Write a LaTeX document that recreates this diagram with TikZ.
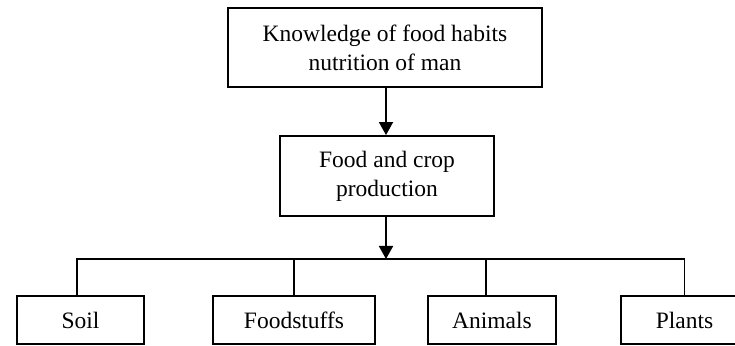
\documentclass[tikz,border=0pt]{standalone}
\usepackage{fontspec}
\setmainfont{Liberation Serif}
\usetikzlibrary{arrows.meta,calc,positioning}

\tikzset{
  box/.style={draw,line width=1.9pt,inner sep=0pt,align=center,
    font=\fontsize{23.5}{29}\selectfont},
  link/.style={line width=1.9pt},
  flow/.style={line width=1.9pt,-{Triangle[length=13pt,width=14pt]}}
}

\begin{document}
\begin{tikzpicture}[x=1pt,y=1pt]
  \useasboundingbox (0,0) rectangle (735,345);
  % top of the chart
  \node[box,minimum width=314pt,minimum height=79pt] (know) at (385,297.5)
    {Knowledge of food habits\\nutrition of man};
  \node[box,minimum width=214pt,minimum height=80pt] (crop) at (387,169)
    {Food and crop\\production};
  \coordinate (bus) at (386,86);
  % bottom row
  \node[box,minimum width=127pt,minimum height=48pt] (soil) at (80.5,25) {Soil};
  \node[box,minimum width=162pt,minimum height=48pt] (stuffs) at (294,25) {Foodstuffs};
  \node[box,minimum width=128pt,minimum height=48pt] (animals) at (492,25) {Animals};
  \node[box,minimum width=127pt,minimum height=48pt] (plants) at (684.5,25) {Plants};
  % connectors
  \coordinate (soiltop) at ($(soil.north)+(-3.5,0)$);
  \coordinate (animtop) at ($(animals.north)+(-6,0)$);
  \draw[flow] (know.south -| bus) -- (crop.north -| bus);
  \draw[flow] (crop.south -| bus) -- (bus);
  \draw[link] (soiltop) -- (soiltop |- bus) -- (plants.north |- bus) -- (plants.north);
  \draw[link] (stuffs.north) -- (stuffs.north |- bus);
  \draw[link] (animtop) -- (animtop |- bus);
\end{tikzpicture}
\end{document}
